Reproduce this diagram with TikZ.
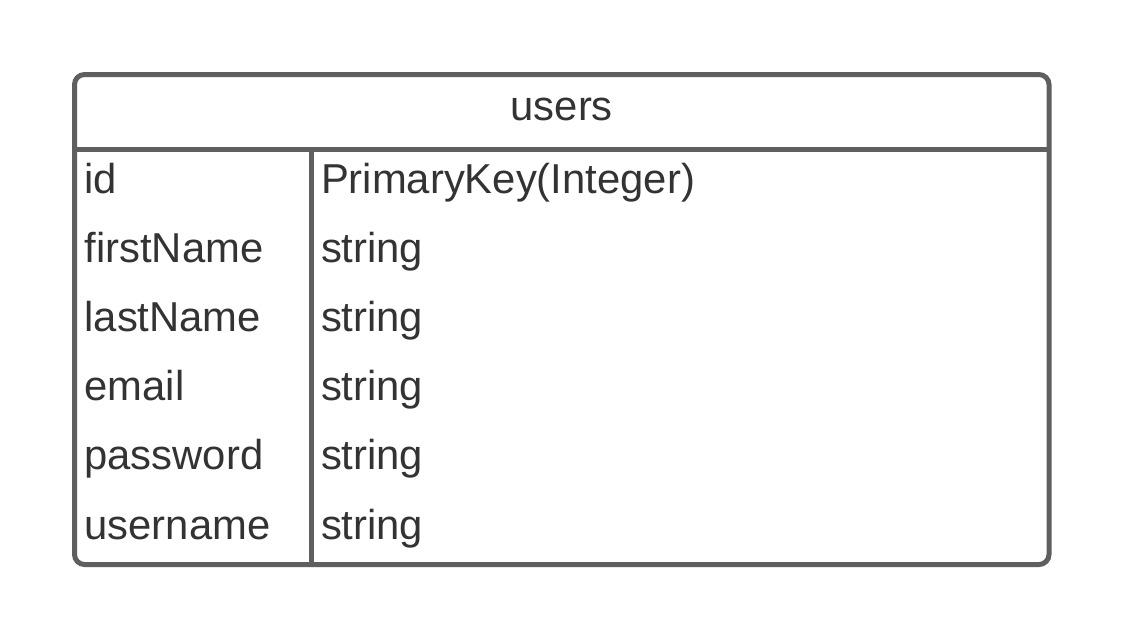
\documentclass[tikz,border=0pt]{standalone}
\usepackage{fontspec}
\setmainfont{Liberation Sans}
\definecolor{linegray}{HTML}{5F5F5F}
\definecolor{textgray}{HTML}{333333}
\begin{document}
\begin{tikzpicture}[x=1pt,y=-1pt,
  tbl/.style={draw=linegray,line width=5pt},
  cell/.style={anchor=base west,inner sep=0pt,outer sep=0pt,text=textgray,font=\fontsize{41.8}{49}\selectfont},
  head/.style={anchor=base,inner sep=0pt,outer sep=0pt,text=textgray,font=\fontsize{41.8}{49}\selectfont}]
\useasboundingbox (0,0) rectangle (1125,641);
\fill[white] (0,0) rectangle (1125,641);
\draw[tbl,rounded corners=10pt] (74.5,74.5) rectangle (1049,564.5);
\draw[tbl] (74.5,149.5) -- (1049,149.5);
\draw[tbl] (311.5,149.5) -- (311.5,564.5);
\node[head] (title) at (561.75,120) {users};
\node[cell] (k1) at (84.5,193) {id};
\node[cell] (k2) at (84.5,262.2) {firstName};
\node[cell] (k3) at (84.5,331.4) {lastName};
\node[cell] (k4) at (84.5,400.6) {email};
\node[cell] (k5) at (84.5,469.8) {password};
\node[cell] (k6) at (84.5,539) {username};
\node[cell] (v1) at (321,193) {PrimaryKey(Integer)};
\node[cell] (v2) at (321,262.2) {string};
\node[cell] (v3) at (321,331.4) {string};
\node[cell] (v4) at (321,400.6) {string};
\node[cell] (v5) at (321,469.8) {string};
\node[cell] (v6) at (321,539) {string};
\end{tikzpicture}
\end{document}
